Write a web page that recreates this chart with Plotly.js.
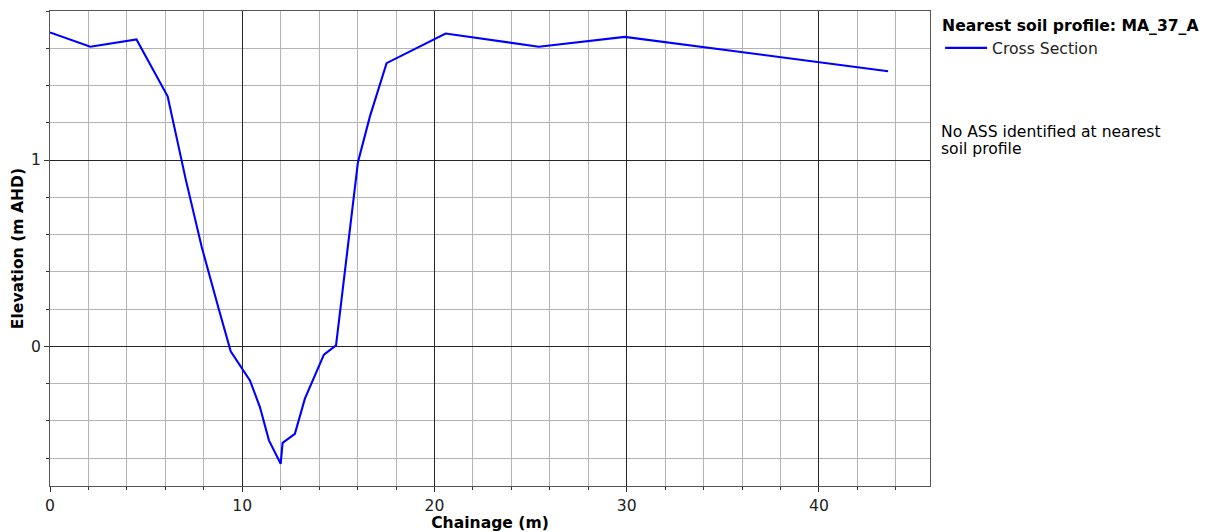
<!DOCTYPE html>
<html>
<head>
<meta charset="utf-8">
<script src="https://cdn.plot.ly/plotly-3.0.1.min.js"></script>
<style>html,body{margin:0;padding:0;background:#fff;}#chart{width:1211px;height:532px;}</style>
</head>
<body>
<div id="chart"></div>
<script>
const chainage = [0, 2.1, 4.5, 6.12, 7.07, 7.89, 8.75, 9.4, 10.4, 10.92, 11.39, 12.0, 12.1, 12.74, 13.26, 14.25, 14.88, 16.02, 16.64, 17.51, 20.58, 25.43, 29.9, 43.6];
const elevation = [1.685, 1.608, 1.647, 1.342, 0.892, 0.534, 0.211, -0.027, -0.183, -0.326, -0.505, -0.631, -0.518, -0.47, -0.281, -0.045, 0.005, 0.988, 1.233, 1.52, 1.679, 1.608, 1.661, 1.477];
const seriesName = 'Cross Section';
const legendTitle = '<b>Nearest soil profile: MA_37_A</b>';
const noteLines = ['No ASS identified at nearest', 'soil profile'];
const xTitle = '<b>Chainage (m)</b>';
const yTitle = '<b>Elevation (m AHD)</b>';

const FS = 15.6;
const FAM = 'DejaVu Sans, sans-serif';
const font = {family: FAM, size: FS, color: '#222'};

const trace = {
  x: chainage, y: elevation, type: 'scatter', mode: 'lines', name: seriesName,
  line: {color: '#0000ff', width: 2.1}
};

const noteAnnotations = noteLines.map((t, i) => ({
  text: t, xref: 'paper', yref: 'paper', x: 1.0, y: 1.0,
  xanchor: 'left', yanchor: 'middle', xshift: 9, yshift: -(121 + 17 * i),
  align: 'left', showarrow: false,
  font: {family: FAM, size: FS, color: '#000'}
}));

const layout = {
  width: 1211, height: 532,
  margin: {l: 50, r: 281, t: 11, b: 46, autoexpand: false},
  paper_bgcolor: '#fff', plot_bgcolor: '#fff',
  font: font,
  showlegend: true,
  legend: {
    x: 1.0115, xanchor: 'left', y: 1.0, yanchor: 'top',
    xref: 'paper', yref: 'paper',
    itemwidth: 42,
    title: {text: legendTitle, font: {family: FAM, size: FS, color: '#000'}},
    font: {family: FAM, size: FS, color: '#222'},
    bgcolor: 'rgba(0,0,0,0)', borderwidth: 0
  },
  xaxis: {
    range: [0, 45.78], dtick: 10, tick0: 0,
    showgrid: true, gridcolor: '#262626', gridwidth: 1,
    zeroline: false, showline: true, linecolor: '#555', linewidth: 1, mirror: true,
    ticks: 'outside', ticklen: 5, tickcolor: '#333',
    minor: {dtick: 2, tick0: 0, showgrid: true, gridcolor: '#b4b4b4', gridwidth: 1, ticks: 'outside', ticklen: 3, tickcolor: '#333'},
    title: {text: xTitle, font: {family: FAM, size: FS, color: '#000'}, standoff: 4},
    tickfont: font
  },
  yaxis: {
    range: [-0.75, 1.8], dtick: 1, tick0: 0,
    showgrid: true, gridcolor: '#262626', gridwidth: 1,
    zeroline: false, showline: true, linecolor: '#555', linewidth: 1, mirror: true,
    ticks: 'outside', ticklen: 5, tickcolor: '#333',
    minor: {dtick: 0.2, tick0: 0, showgrid: true, gridcolor: '#b4b4b4', gridwidth: 1, ticks: 'outside', ticklen: 3, tickcolor: '#333'},
    title: {text: yTitle, font: {family: FAM, size: FS, color: '#000'}, standoff: 3},
    tickfont: font
  },
  annotations: noteAnnotations
};

Plotly.newPlot('chart', [trace], layout, {displayModeBar: false, staticPlot: true});
</script>
</body>
</html>
